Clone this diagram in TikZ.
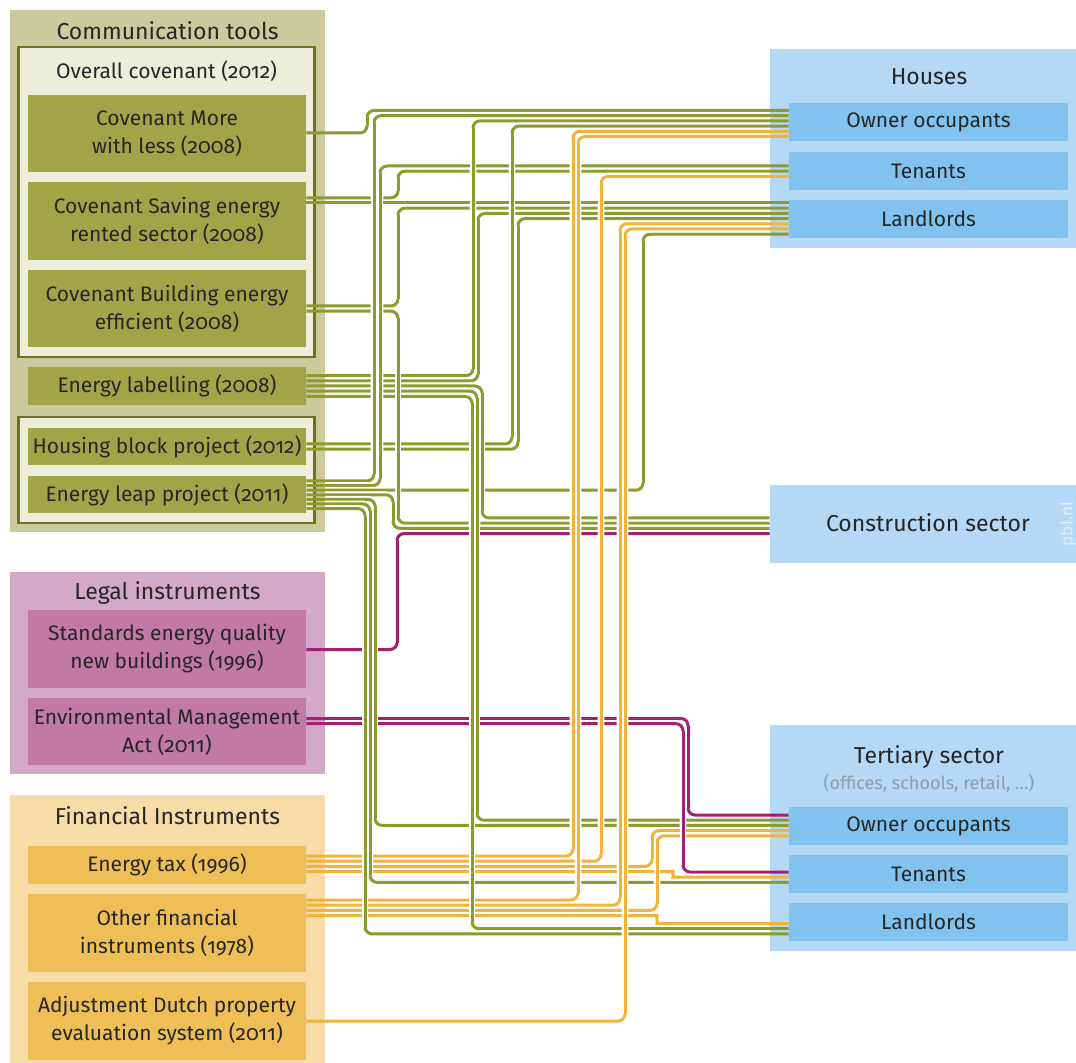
\documentclass[tikz,border=0pt]{standalone}
\usepackage{fontspec}
\setmainfont{Fira Sans}[Numbers=OldStyle]
\usetikzlibrary{calc}
\definecolor{ink}{HTML}{262626}
\definecolor{cgreen}{HTML}{8C9A2E}
\definecolor{corange}{HTML}{F0B33C}
\definecolor{cmagenta}{HTML}{A3206F}
\definecolor{commbg}{HTML}{C9CB9C}
\definecolor{commframe}{HTML}{6E7322}
\definecolor{commpale}{HTML}{ECEDDA}
\definecolor{commbox}{HTML}{A2A547}
\definecolor{legalbg}{HTML}{D4A8C7}
\definecolor{legalbox}{HTML}{C07AA5}
\definecolor{finbg}{HTML}{F8DCA7}
\definecolor{finbox}{HTML}{EEBE57}
\definecolor{targetbg}{HTML}{B4D8F5}
\definecolor{targetbox}{HTML}{81C2EE}
\definecolor{subgray}{HTML}{8E9DAC}
\definecolor{pbltext}{HTML}{E2EFFA}

% colour / source / source y / turn x / target y / target
\newcommand{\linklist}{%
cgreen/covmore/133/367/110.5/hown,
cgreen/covsav/197.8/398/171.2/hten,
cgreen/covbld/306/398/208.2/hland,
cgreen/covbld/311.2/398/523.2/cons,
cgreen/labelling/375.6/473/120.9/hown,
cgreen/labelling/380.8/478/213.4/hland,
cgreen/labelling/386/482/518/cons,
cgreen/labelling/391.2/477/820.2/town,
cgreen/labelling/396.4/472/928.7/tland,
cgreen/housing/444/512/126.1/hown,
cgreen/housing/449.2/518/218.6/hland,
cgreen/leap/481/374/115.7/hown,
cgreen/leap/485.6/380/166/hten,
cgreen/leap/490.2/643/234.2/hland,
cgreen/leap/494.8/393/528.4/cons,
cgreen/leap/499.4/375/825.4/town,
cgreen/leap/504/370/882.4/tten,
cgreen/leap/508.6/365/933.9/tland,
cmagenta/stand/649.5/397/533.6/cons,
cmagenta/ema/718.5/688/815/town,
cmagenta/ema/723.7/683/872/tten,
corange/etax/856/573/131.3/hown,
corange/etax/861.2/601/176.4/hten,
corange/etax/866.4/652/830.6/town,
corange/other/900/578/136.5/hown,
corange/other/905.2/620/223.8/hland,
corange/other/910.4/657/835.8/town,
corange/adjust/1021/625/229/hland}

\begin{document}
\begin{tikzpicture}[x=0.5pt, y=-0.5pt,
  panel/.style={fill=#1, inner sep=0pt, minimum width=157.5pt},
  covframe/.style={draw=commframe, line width=1.4pt, fill=commpale, inner sep=0pt, minimum width=148pt},
  tool/.style={fill=#1, inner sep=0pt, minimum width=139pt, align=center, text=ink, font=\fontsize{10.5}{14}\selectfont},
  target/.style={fill=targetbox, inner sep=0pt, minimum width=139.5pt, minimum height=19pt, text=ink, font=\fontsize{10.5}{14}\selectfont},
  headline/.style={text=ink, inner sep=0pt, font=\fontsize{11.5}{14}\selectfont},
  wire/.style={draw=#1, line width=1.5pt, rounded corners=3.5pt},
  halo/.style={draw=white, line width=3.4pt, rounded corners=3.5pt}
]
\useasboundingbox (0,0) rectangle (1076,1063);
\fill[white] (0,0) rectangle (1076,1063);

% communication tools
\node[panel=commbg, minimum height=261pt] (commpanel) at (167.5,271) {};
\node[headline] (commhead) at (167.5,31) {Communication tools};
\node[covframe, minimum height=155pt] (overallframe) at (166.5,202) {};
\node[headline, font=\fontsize{10.5}{14}\selectfont] (overallhead) at (166.5,71) {Overall covenant (2012)};
\node[tool=commbox, minimum height=38.5pt] (covmore) at (167,133.5) {Covenant More\\with less (2008)};
\node[tool=commbox, minimum height=39pt] (covsav) at (167,221) {Covenant Saving energy\\rented sector (2008)};
\node[tool=commbox, minimum height=38.5pt] (covbld) at (167,308.5) {Covenant Building energy\\efficient (2008)};
\node[tool=commbox, minimum height=19pt] (labelling) at (167,386) {Energy labelling (2008)};
\node[covframe, minimum height=53pt] (projframe) at (166.5,470) {};
\node[tool=commbox, minimum height=18.5pt] (housing) at (167,446.5) {Housing block project (2012)};
\node[tool=commbox, minimum height=18.5pt] (leap) at (167,494.5) {Energy leap project (2011)};

% legal instruments
\node[panel=legalbg, minimum height=101pt] (legalpanel) at (167.5,673) {};
\node[headline] (legalhead) at (167.5,593) {Legal instruments};
\node[tool=legalbox, minimum height=39pt] (stand) at (167,649) {Standards energy quality\\new buildings (1996)};
\node[tool=legalbox, minimum height=33.5pt] (ema) at (167,731.5) {Environmental Management\\Act (2011)};

% financial instruments
\node[panel=finbg, minimum height=134pt] (finpanel) at (167.5,929) {};
\node[headline] (finhead) at (167.5,816) {Financial Instruments};
\node[tool=finbox, minimum height=19pt] (etax) at (167,865) {Energy tax (1996)};
\node[tool=finbox, minimum height=39pt] (other) at (167,933) {Other financial\\instruments (1978)};
\node[tool=finbox, minimum height=39pt] (adjust) at (167,1021) {Adjustment Dutch property\\evaluation system (2011)};

% target groups
\node[panel=targetbg, minimum width=153pt, minimum height=99.5pt] (housepanel) at (923,148.5) {};
\node[headline] (househead) at (929,77) {Houses};
\node[target] (hown) at (928.5,122.5) {Owner occupants};
\node[target] (hten) at (928.5,171) {Tenants};
\node[target] (hland) at (928.5,219) {Landlords};
\node[panel=targetbg, minimum width=153pt, minimum height=39pt] (cons) at (923,524) {};
\node[headline] (conshead) at (928,523) {Construction sector};
\node[rotate=90, text=pbltext, inner sep=0pt, font=\fontsize{8.5}{9}\selectfont] (pbl) at (1068,524) {pbl.nl};
\node[panel=targetbg, minimum width=153pt, minimum height=113pt] (tertpanel) at (923,838) {};
\node[headline] (terthead) at (929,757) {Tertiary sector};
\node[text=subgray, inner sep=0pt, font=\fontsize{9}{10}\selectfont] (tertsub) at (929,783) {(offices, schools, retail, \dots)};
\node[target] (town) at (928.5,826) {Owner occupants};
\node[target] (tten) at (928.5,874) {Tenants};
\node[target] (tland) at (928.5,922) {Landlords};

% links, first whole
\foreach \col/\src/\ya/\xm/\yb/\dst in \linklist {
  \begin{scope}
    \clip (325,0) rectangle (770,1063);
    \draw[halo] (\src.east |- 0,\ya) -- (\xm,\ya) -- (\xm,\yb) -- (\dst.west |- 0,\yb);
  \end{scope}
  \draw[wire=\col] (\src.east |- 0,\ya) -- (\xm,\ya) -- (\xm,\yb) -- (\dst.west |- 0,\yb);
}
\begin{scope}
  \clip (325,0) rectangle (770,1063);
  \draw[halo] (covsav.east |- 0,203) -- (hland.west |- 0,203);
  \draw[halo] (etax.east |- 0,871.6) -- (666,871.6) to[out=0,in=180] (680,877.2) -- (tten.west |- 0,877.2);
  \draw[halo] (other.east |- 0,915.6) -- (650,915.6) to[out=0,in=180] (664,923.5) -- (tland.west |- 0,923.5);
\end{scope}
\draw[wire=cgreen] (covsav.east |- 0,203) -- (hland.west |- 0,203);
\draw[wire=corange] (etax.east |- 0,871.6) -- (666,871.6) to[out=0,in=180] (680,877.2) -- (tten.west |- 0,877.2);
\draw[wire=corange] (other.east |- 0,915.6) -- (650,915.6) to[out=0,in=180] (664,923.5) -- (tland.west |- 0,923.5);

% links, vertical runs again on top
\foreach \col/\src/\ya/\xm/\yb/\dst in \linklist {
  \draw[halo] ($(\xm,\ya)!3.5pt!(\xm,\yb)$) -- ($(\xm,\yb)!3.5pt!(\xm,\ya)$);
  \draw[wire=\col] ($(\xm,\ya)!3.5pt!(\xm,\yb)$) -- ($(\xm,\yb)!3.5pt!(\xm,\ya)$);
}
\end{tikzpicture}
\end{document}
